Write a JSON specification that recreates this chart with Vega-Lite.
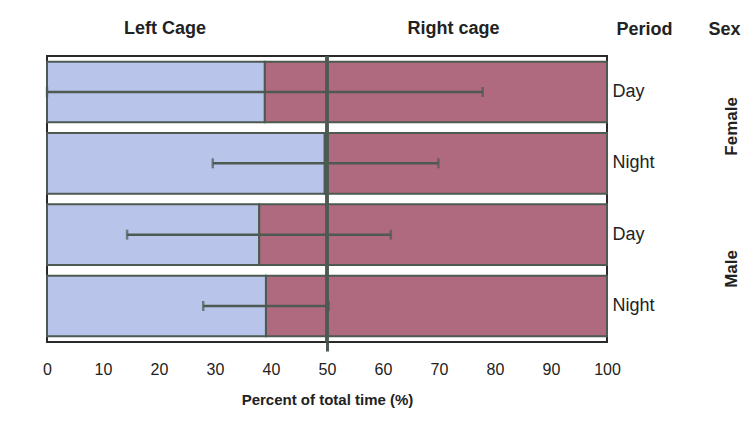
{
  "$schema": "https://vega.github.io/schema/vega-lite/v6.json",
  "width": 560,
  "height": 286,
  "autosize": {"type": "none"},
  "padding": {"left": 47, "top": 56, "right": 144, "bottom": 88},
  "background": "white",
  "config": {
    "view": {"stroke": "#2a2a2a", "strokeWidth": 2},
    "font": "Liberation Sans",
    "axis": {"grid": false, "labelColor": "#222", "titleColor": "#222", "labelFont": "Liberation Sans", "titleFont": "Liberation Sans"}
  },
  "data": {
    "values": [
      {"row": "Female Day", "Sex": "Female", "Period": "Day", "left": 38.9, "lo": 0, "hi": 77.8},
      {"row": "Female Night", "Sex": "Female", "Period": "Night", "left": 49.6, "lo": 29.6, "hi": 69.9},
      {"row": "Male Day", "Sex": "Male", "Period": "Day", "left": 37.9, "lo": 14.3, "hi": 61.4},
      {"row": "Male Night", "Sex": "Male", "Period": "Night", "left": 39.1, "lo": 27.9, "hi": 50.3}
    ]
  },
  "resolve": {"axis": {"x": "independent", "y": "independent"}},
  "layer": [
    {
      "mark": {"type": "bar", "fill": "#b8c4ea", "stroke": "#4c5a52", "strokeWidth": 2},
      "encoding": {
        "x": {
          "field": "left", "type": "quantitative", "stack": null,
          "scale": {"domain": [0, 100], "nice": false},
          "axis": {
            "orient": "bottom", "values": [0, 10, 20, 30, 40, 50, 60, 70, 80, 90, 100],
            "ticks": false, "domain": false, "labelPadding": 19, "labelFontSize": 16, "labelFlush": false,
            "title": "Percent of total time (%)", "titleFontSize": 15, "titleFontWeight": "bold", "titlePadding": 15
          }
        },
        "y": {
          "field": "row", "type": "nominal",
          "sort": ["Female Day", "Female Night", "Male Day", "Male Night"],
          "scale": {"type": "band", "paddingInner": 0.15, "paddingOuter": 0.08},
          "axis": {
            "orient": "right", "ticks": false, "domain": false, "labelPadding": 5,
            "labelFontSize": 18, "labelExpr": "split(datum.label, ' ')[1]",
            "title": "Period", "titleAngle": 0, "titleAlign": "center", "titleBaseline": "middle",
            "titleX": 37, "titleY": -27, "titleFontSize": 18, "titleFontWeight": "bold"
          }
        }
      }
    },
    {
      "mark": {"type": "bar", "fill": "#b06a7f", "stroke": "#4c5a52", "strokeWidth": 2},
      "encoding": {
        "x": {"field": "left", "type": "quantitative", "stack": null, "axis": null},
        "x2": {"datum": 100},
        "y": {
          "field": "row", "type": "nominal",
          "sort": ["Female Day", "Female Night", "Male Day", "Male Night"],
          "scale": {"type": "band", "paddingInner": 0.15, "paddingOuter": 0.08},
          "axis": {
            "orient": "right", "offset": 111, "ticks": false, "domain": false, "labelPadding": 5,
            "values": ["Female Night", "Male Night"],
            "labelExpr": "split(datum.label, ' ')[0]",
            "labelAngle": -90, "labelAlign": "center", "labelBaseline": "top",
            "labelOffset": -37, "labelFontSize": 17, "labelFontWeight": "bold",
            "title": "Sex", "titleAngle": 0, "titleAlign": "center", "titleBaseline": "middle",
            "titleX": 6, "titleY": -27, "titleFontSize": 18, "titleFontWeight": "bold"
          }
        }
      }
    },
    {
      "mark": {"type": "rule", "color": "#4c5a52", "strokeWidth": 2.5},
      "encoding": {
        "x": {
          "field": "lo", "type": "quantitative",
          "axis": {
            "orient": "top", "values": [21, 72.5], "ticks": false, "domain": false,
            "labelExpr": "datum.value < 50 ? 'Left Cage' : 'Right cage'",
            "labelFontSize": 18, "labelFontWeight": "bold", "labelPadding": 19, "title": null
          }
        },
        "x2": {"field": "hi"},
        "y": {
          "field": "row", "type": "nominal",
          "sort": ["Female Day", "Female Night", "Male Day", "Male Night"],
          "scale": {"type": "band", "paddingInner": 0.15, "paddingOuter": 0.08},
          "axis": null
        }
      }
    },
    {
      "mark": {"type": "tick", "color": "#4c5a52", "thickness": 2.5, "size": 10},
      "encoding": {
        "x": {"field": "lo", "type": "quantitative", "axis": null},
        "y": {
          "field": "row", "type": "nominal",
          "sort": ["Female Day", "Female Night", "Male Day", "Male Night"],
          "scale": {"type": "band", "paddingInner": 0.15, "paddingOuter": 0.08},
          "axis": null
        }
      }
    },
    {
      "mark": {"type": "tick", "color": "#4c5a52", "thickness": 2.5, "size": 10},
      "encoding": {
        "x": {"field": "hi", "type": "quantitative", "axis": null},
        "y": {
          "field": "row", "type": "nominal",
          "sort": ["Female Day", "Female Night", "Male Day", "Male Night"],
          "scale": {"type": "band", "paddingInner": 0.15, "paddingOuter": 0.08},
          "axis": null
        }
      }
    },
    {
      "mark": {"type": "rule", "color": "#4c5a52", "strokeWidth": 3},
      "encoding": {
        "x": {
          "datum": 50, "type": "quantitative",
          "axis": {
            "orient": "bottom", "values": [50], "labels": false, "domain": false,
            "ticks": true, "tickSize": 9, "tickWidth": 3, "tickColor": "#4c5a52", "title": null
          }
        }
      }
    }
  ]
}
